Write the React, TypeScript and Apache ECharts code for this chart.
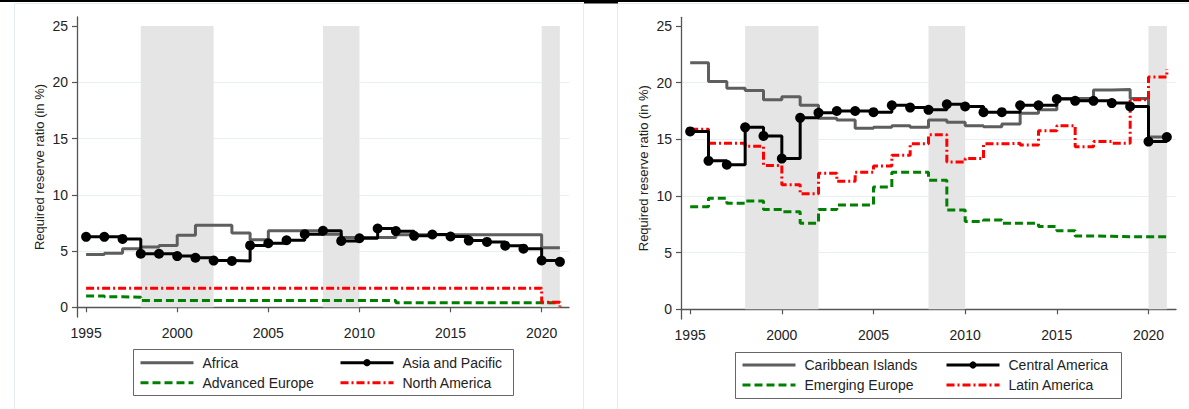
import React, { useEffect, useRef } from "react";
import * as echarts from "echarts";

const years = [1995, 1996, 1997, 1998, 1999, 2000, 2001, 2002, 2003, 2004, 2005, 2006, 2007, 2008, 2009, 2010, 2011, 2012, 2013, 2014, 2015, 2016, 2017, 2018, 2019, 2020, 2021];

// Left panel
const africa = [4.7, 4.8, 5.2, 5.35, 5.5, 6.4, 7.3, 7.3, 6.6, 6.0, 6.8, 6.8, 6.8, 6.5, 6.2, 6.2, 6.2, 6.45, 6.45, 6.45, 6.45, 6.45, 6.45, 6.45, 6.45, 5.3, 5.3];
const asiaPacific = [6.26, 6.26, 6.08, 4.76, 4.76, 4.55, 4.4, 4.15, 4.12, 5.5, 5.69, 5.96, 6.5, 6.8, 5.9, 6.14, 7.0, 6.77, 6.35, 6.47, 6.29, 5.93, 5.81, 5.48, 5.21, 4.16, 4.04];
const advancedEurope = [1.0, 0.93, 0.9, 0.6, 0.6, 0.6, 0.6, 0.6, 0.6, 0.6, 0.6, 0.6, 0.6, 0.6, 0.6, 0.6, 0.6, 0.4, 0.4, 0.4, 0.4, 0.4, 0.4, 0.4, 0.4, 0.4, 0.38];
const northAmerica = [1.7, 1.7, 1.7, 1.7, 1.7, 1.7, 1.7, 1.7, 1.7, 1.7, 1.7, 1.7, 1.7, 1.7, 1.7, 1.7, 1.7, 1.7, 1.7, 1.7, 1.7, 1.7, 1.7, 1.7, 1.7, 0.45, 0.05];

// Right panel
const caribbean = [21.76, 20.1, 19.5, 19.3, 18.5, 18.76, 18.0, 16.85, 16.7, 15.97, 16.06, 16.2, 16.06, 16.7, 16.5, 16.2, 16.1, 16.35, 17.3, 17.6, 18.6, 18.6, 19.35, 19.4, 18.6, 15.2, 15.2];
const centralAmerica = [15.7, 13.1, 12.76, 16.06, 15.3, 13.3, 16.9, 17.35, 17.5, 17.5, 17.4, 18.0, 17.8, 17.6, 18.1, 17.9, 17.4, 17.4, 18.0, 18.0, 18.56, 18.4, 18.4, 18.2, 17.9, 14.8, 15.2];
const emergingEurope = [9.06, 9.8, 9.35, 9.56, 8.8, 8.6, 7.6, 8.8, 9.2, 9.2, 10.8, 12.1, 12.1, 11.4, 8.76, 7.74, 7.88, 7.6, 7.6, 7.3, 6.94, 6.47, 6.45, 6.4, 6.4, 6.4, 6.35];
const latinAmerica = [15.9, 14.65, 14.65, 14.4, 12.7, 11.0, 10.2, 12.0, 11.3, 12.1, 12.65, 13.6, 14.6, 15.4, 13.0, 13.3, 14.6, 14.65, 14.5, 15.76, 16.2, 14.35, 14.8, 14.65, 18.5, 20.5, 21.2];

const recessions = [[1998, 2002], [2008, 2010], [2020, 2021]];
const xTicks = [1995, 2000, 2005, 2010, 2015, 2020];
const yTicks = [0, 5, 10, 15, 20, 25];
const yTitle = "Required reserve ratio (in %)";

const FONT = "Arial, 'Liberation Sans', sans-serif";
const GRAY = "#5e5e5e";
const GREEN = "#008000";
const RED = "#ff0000";
const DASH = [8, 4];
const DASHDOT = [8, 3, 2, 3];

const pairs = (vals: number[]) => years.map((y, i) => [y, vals[i]]);

function makeAxes(idx: number, yMin: number, yMax: number) {
  const x = {
    type: "value",
    gridIndex: idx,
    min: 1994.5,
    max: 2021.5,
    axisLine: { show: true, lineStyle: { color: "#555", width: 1.3 } },
    axisTick: { show: true, length: 5, customValues: xTicks, lineStyle: { color: "#555", width: 1.2 } },
    axisLabel: { customValues: xTicks, fontSize: 14, color: "#222", margin: 9, fontFamily: FONT, formatter: (v: number) => String(v) },
    splitLine: { show: false },
  };
  const y = {
    type: "value",
    gridIndex: idx,
    min: yMin,
    max: yMax,
    name: yTitle,
    nameLocation: "middle",
    nameGap: 31,
    nameTextStyle: { fontSize: 13, color: "#222", fontFamily: FONT },
    axisLine: { show: true, lineStyle: { color: "#555", width: 1.3 } },
    axisTick: { show: true, length: 5, customValues: yTicks, lineStyle: { color: "#555", width: 1.2 } },
    axisLabel: { customValues: yTicks, fontSize: 14, color: "#222", margin: 9, fontFamily: FONT },
    splitLine: { show: true, showMinLine: false, showMaxLine: false, lineStyle: { color: "#e8f0f2", width: 1.2 } },
  };
  return { x, y };
}

function lineSeries(name: string, vals: number[], idx: number, color: string, width: number, type: any, dots: boolean, z: number, withBands = false) {
  const s: any = {
    name,
    type: "line",
    xAxisIndex: idx,
    yAxisIndex: idx,
    step: "end",
    data: pairs(vals),
    z,
    symbol: dots ? "circle" : "none",
    symbolSize: 10,
    showSymbol: dots,
    itemStyle: { color },
    lineStyle: { color, width, type },
    emphasis: { disabled: true },
  };
  if (withBands) {
    s.markArea = {
      silent: true,
      itemStyle: { color: "#e5e5e5" },
      data: recessions.map(([a, b]) => [{ xAxis: a, yAxis: 0 }, { xAxis: b, yAxis: 25 }]),
    };
  }
  return s;
}

function legendItem(name: string, color: string, width: number, type: any, dots: boolean) {
  return {
    name,
    itemStyle: dots ? { color, opacity: 1 } : { opacity: 0 },
    lineStyle: { color, width, type },
  };
}

function legendCol(left: number, top: number, items: any[]) {
  return {
    orient: "vertical",
    left,
    top,
    padding: 0,
    itemGap: 0,
    itemWidth: 53,
    itemHeight: 9,
    selectedMode: false,
    data: items,
    textStyle: { fontSize: 14, lineHeight: 20, color: "#222", fontFamily: FONT, padding: [0, 0, 0, 4] },
  };
}

export default function App() {
  const ref = useRef<HTMLDivElement>(null);
  useEffect(() => {
    if (!ref.current) return;
    const chart = echarts.init(ref.current, null, { renderer: "svg" });
    const a0 = makeAxes(0, -0.862, 25.8);
    const a1 = makeAxes(1, -0.856, 25.77);
    const option: any = {
      animation: false,
      backgroundColor: "#ffffff",
      grid: [
        { left: 77, top: 17, width: 492, height: 300 },
        { left: 681, top: 17.3, width: 495, height: 301.7 },
      ],
      xAxis: [a0.x, a1.x],
      yAxis: [a0.y, a1.y],
      legend: [
        legendCol(139, 352.7, [
          legendItem("Africa", GRAY, 3, "solid", false),
          legendItem("Advanced Europe", GREEN, 3, DASH, false),
        ]),
        legendCol(339, 352.7, [
          legendItem("Asia and Pacific", "#000", 3, "solid", true),
          legendItem("North America", RED, 3, DASHDOT, false),
        ]),
        legendCol(741, 355, [
          legendItem("Caribbean Islands", GRAY, 3, "solid", false),
          legendItem("Emerging Europe", GREEN, 3, DASH, false),
        ]),
        legendCol(945, 355, [
          legendItem("Central America", "#000", 3, "solid", true),
          legendItem("Latin America", RED, 3, DASHDOT, false),
        ]),
      ],
      graphic: [
        { type: "rect", shape: { x: 14.5, y: 3.5, width: 569, height: 420 }, style: { fill: "none", stroke: "#e4ecee", lineWidth: 1 }, silent: true, z: -10 },
        { type: "rect", shape: { x: 617.5, y: 3.5, width: 580, height: 420 }, style: { fill: "none", stroke: "#e4ecee", lineWidth: 1 }, silent: true, z: -10 },
        { type: "rect", shape: { x: 0, y: 0, width: 1189, height: 2 }, style: { fill: "#000" }, silent: true },
        { type: "rect", shape: { x: 584, y: 0, width: 34, height: 3.5 }, style: { fill: "#000" }, silent: true },
        { type: "rect", shape: { x: 133.5, y: 349.5, width: 380, height: 46 }, style: { fill: "none", stroke: "#666", lineWidth: 1 }, silent: true },
        { type: "rect", shape: { x: 735.5, y: 352.5, width: 386, height: 46 }, style: { fill: "none", stroke: "#666", lineWidth: 1 }, silent: true },
      ],
      series: [
        lineSeries("Africa", africa, 0, GRAY, 3, "solid", false, 3, true),
        lineSeries("Asia and Pacific", asiaPacific, 0, "#000", 3, "solid", true, 5),
        lineSeries("Advanced Europe", advancedEurope, 0, GREEN, 3, DASH, false, 4),
        lineSeries("North America", northAmerica, 0, RED, 3, DASHDOT, false, 4),
        lineSeries("Caribbean Islands", caribbean, 1, GRAY, 3, "solid", false, 3, true),
        lineSeries("Central America", centralAmerica, 1, "#000", 3, "solid", true, 5),
        lineSeries("Emerging Europe", emergingEurope, 1, GREEN, 3, DASH, false, 4),
        lineSeries("Latin America", latinAmerica, 1, RED, 3, DASHDOT, false, 4),
      ],
    };
    chart.setOption(option);
    return () => chart.dispose();
  }, []);
  return <div ref={ref} style={{ position: "absolute", left: 0, top: 0, width: 1189, height: 409 }} />;
}
